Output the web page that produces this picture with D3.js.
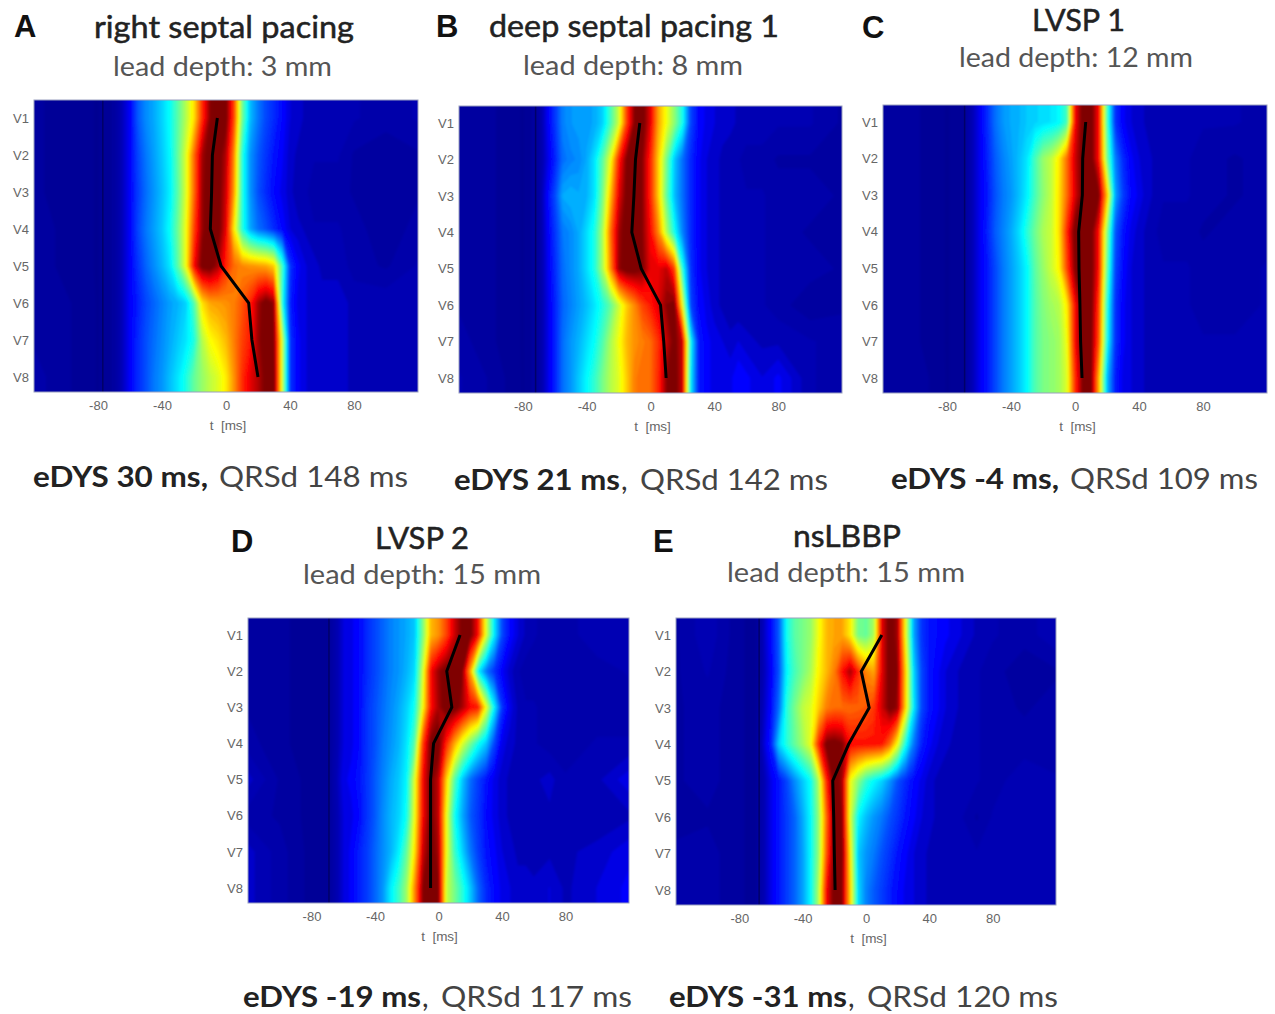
<!DOCTYPE html>
<html>
<head>
<meta charset="utf-8">
<script src="https://cdn.jsdelivr.net/npm/d3@7"></script>
<style>
body {margin: 0; background: #fff;}
svg {display: block;}
.tick text {font-family: "Liberation Sans", Arial, sans-serif; font-size: 13px; fill: #666;}
</style>
</head>
<body>
<div id="vis"></div>
<script>
const WIDTH = 1275;
const HEIGHT = 1014;

const LEADS = ["V1", "V2", "V3", "V4", "V5", "V6", "V7", "V8"];
const X_TICKS = [-80, -40, 0, 40, 80];

// time of every column in the heat maps, finer around the QRS
const TIME_MS = [-120, -100, -80, -70,
	-60, -55, -50, -45, -40, -35, -30, -25, -20, -15, -10, -5, 0, 5, 10, 15, 20, 25, 30, 35, 40, 45, 50, 55, 60,
	70, 80, 100, 120];

// one row per lead, percent of the colour range
const HEAT_A = [
	[5,4,3,5, 13,22,27,30,34,39,47,56,66,84,97,100,99,82,50,32,25,20,17,14,11,10,9,9,9, 9,8,7,8],
	[5,4,3,5, 13,20,25,29,33,38,48,60,78,95,100,100,94,75,42,28,22,18,15,13,10,9,8,8,8, 8,6,5,6],
	[5,4,3,5, 13,19,24,28,32,37,47,60,78,96,100,100,92,73,42,28,21,17,14,12,10,8,8,7,7, 7,6,5,6],
	[6,4,3,5, 13,20,25,29,33,39,49,62,82,96,100,100,90,65,42,30,24,21,17,14,11,10,9,8,8, 8,7,5,7],
	[6,4,3,5, 13,18,23,27,31,36,47,62,88,99,100,95,85,78,75,74,73,72,68,45,18,13,11,10,9, 9,7,6,8],
	[6,5,3,5, 13,16,20,23,26,29,31,34,46,66,72,73,74,76,80,85,95,100,96,42,16,12,11,10,10, 10,9,9,9],
	[6,5,3,5, 13,17,21,24,27,30,33,36,41,56,63,66,70,76,82,86,96,100,98,60,18,13,11,10,10, 10,9,8,9],
	[7,5,3,5, 13,17,21,25,28,32,36,41,48,53,57,60,65,74,84,90,94,99,100,60,18,13,11,10,10, 10,9,9,9]
];
const HEAT_B = [
	[6,5,3,6, 18,26,28,29,29,30,34,45,58,82,98,100,90,72,62,52,40,20,14,12,11,10,10,9,9, 9,8,8,6],
	[6,5,3,6, 16,24,26,27,30,36,47,62,85,98,100,97,85,68,50,33,24,17,13,11,10,9,8,8,7, 7,6,6,5],
	[6,5,3,6, 20,30,31,30,31,36,50,70,90,99,100,97,85,68,48,32,24,17,13,11,10,9,8,8,8, 8,7,7,6],
	[6,5,3,6, 18,25,27,30,35,41,55,78,95,100,100,97,88,75,56,40,26,17,13,11,10,9,8,8,8, 8,7,6,6],
	[6,5,3,6, 17,24,27,30,35,41,55,75,96,100,100,98,90,90,93,82,42,18,13,11,10,9,8,9,9, 8,7,7,6],
	[6,5,3,6, 16,23,26,29,32,36,41,48,58,68,75,82,86,91,97,99,62,20,14,12,10,9,8,8,8, 8,7,5,6],
	[7,5,3,6, 16,24,28,31,35,39,46,55,62,70,74,76,78,84,93,99,92,40,16,13,12,11,10,11,10, 9,9,8,7],
	[8,6,3,6, 16,24,28,33,38,43,50,56,60,68,76,78,78,85,97,100,92,38,16,13,12,11,12,14,13, 11,13,8,7]
];
const HEAT_C = [
	[6,5,3,4, 12,17,24,28,30,31,33,34,35,36,38,45,88,100,100,87,45,18,13,11,10,9,9,8,8, 9,8,8,7],
	[6,5,3,4, 12,16,22,26,29,32,36,45,53,57,65,78,92,100,100,87,50,26,17,13,11,10,9,8,8, 8,7,6,7],
	[6,5,3,4, 12,15,21,25,28,32,37,45,52,57,66,78,91,100,100,98,70,30,19,14,12,10,9,8,8, 8,7,6,7],
	[6,5,3,4, 12,16,22,26,30,35,42,49,55,58,66,85,100,100,100,87,52,22,15,12,10,9,8,7,7, 7,6,7,7],
	[6,5,3,4, 12,15,20,25,29,33,38,47,53,58,64,82,98,100,100,87,48,20,14,11,10,9,8,8,8, 8,7,7,8],
	[5,5,3,4, 12,15,20,25,29,33,38,46,51,54,56,65,88,100,100,82,42,18,13,11,10,9,8,8,8, 8,7,7,8],
	[6,5,3,4, 12,15,20,25,29,33,38,46,50,52,54,62,88,100,99,80,40,18,13,11,10,9,9,9,9, 9,8,8,8],
	[6,6,3,4, 12,15,20,25,29,33,38,46,50,52,54,60,84,99,99,70,32,16,12,11,10,9,9,9,9, 9,9,8,8]
];
const HEAT_D = [
	[6,5,4,4, 11,12,14,17,20,23,26,28,30,33,50,70,74,82,92,99,99,88,60,37,20,14,11,9,8, 7,7,9,8],
	[6,5,4,4, 11,12,14,17,20,23,26,28,31,35,58,88,96,100,100,98,72,38,25,18,13,10,8,7,7, 7,7,7,8],
	[6,5,4,4, 11,12,14,18,21,24,27,30,34,40,62,87,95,100,100,95,88,86,62,38,18,12,9,8,8, 7,7,7,7],
	[7,5,4,4, 11,12,14,18,21,25,28,31,36,47,82,99,100,85,72,60,50,40,33,20,12,10,9,8,8, 7,7,8,8],
	[10,6,4,4, 12,13,15,18,22,26,30,33,38,60,88,99,93,68,47,33,24,19,15,12,10,9,9,9,9, 10,8,9,12],
	[7,6,4,4, 11,12,14,18,22,27,31,34,40,62,88,99,93,62,40,30,22,18,14,12,10,9,8,8,8, 9,8,8,9],
	[10,7,4,4, 11,13,16,19,23,27,31,37,48,66,92,100,95,62,44,34,25,19,15,13,11,10,9,9,8, 9,9,10,12],
	[10,7,4,4, 11,13,16,19,23,28,37,44,54,75,97,100,98,58,50,42,33,23,17,14,12,11,10,10,10, 11,9,11,13]
];
const HEAT_E = [
	[6,9,5,4, 14,22,40,47,50,53,62,70,72,72,65,50,48,55,90,100,95,62,30,18,15,14,13,12,11, 9,8,7,9],
	[6,8,5,4, 13,21,38,45,50,55,64,70,76,87,95,85,75,72,90,100,97,68,35,20,15,13,11,10,9, 8,7,5,6],
	[6,7,5,4, 14,24,42,50,57,60,68,76,78,78,78,79,80,83,92,99,96,67,37,20,15,13,11,10,9, 8,7,6,7],
	[6,7,5,4, 16,34,42,48,54,61,85,99,100,98,88,87,87,87,86,78,62,40,25,16,13,11,10,9,9, 8,7,7,7],
	[6,7,5,4, 12,15,20,27,33,39,55,85,100,95,62,52,43,38,34,28,21,17,14,12,10,9,8,8,8, 8,7,9,8],
	[5,6,5,4, 12,15,19,23,30,38,52,78,100,97,60,38,32,28,25,21,18,15,13,11,10,9,8,8,8, 6,8,8,8],
	[7,7,5,4, 12,15,19,23,29,38,52,80,100,99,65,33,28,25,21,18,15,13,11,10,9,8,8,8,8, 8,9,8,9],
	[7,7,5,4, 12,15,19,23,29,38,55,88,100,97,68,35,26,22,19,16,14,12,11,10,9,9,9,9,9, 9,9,9,9]
];

// activation time per lead, the black lines
const LINE_A = [-5.4, -8.5, -9, -9.8, -3.1, 14.2, 16.2, 20];
const LINE_B = [-6.7, -9.4, -10.4, -11.7, -5.8, 6.3, 8.3, 9.8];
const LINE_C = [6.7, 4.8, 4.6, 2.3, 2.5, 3.1, 3.5, 4.4];
const LINE_D = [13.6, 5.2, 8.4, -3.1, -5, -5, -5, -5];
const LINE_E = [10, -3, 2, -11, -21, -20.4, -20, -19.5];

// thin dark vertical mark, one per panel
const ONSET = [-77, -72, -69, -69, -67.5];

const LETTERS = ["A", "B", "C", "D", "E"];
const TITLES = ["right septal pacing", "deep septal pacing 1", "LVSP 1", "LVSP 2", "nsLBBP"];
const DEPTHS = ["lead depth: 3 mm", "lead depth: 8 mm", "lead depth: 12 mm", "lead depth: 15 mm", "lead depth: 15 mm"];
const EDYS = ["eDYS 30 ms,", "eDYS 21 ms", "eDYS -4 ms,", "eDYS -19 ms", "eDYS -31 ms"];
const COMMAS = ["", ",", "", ",", ","];
const QRSD = ["QRSd 148 ms", "QRSd 142 ms", "QRSd 109 ms", "QRSd 117 ms", "QRSd 120 ms"];

const HEATS = [HEAT_A, HEAT_B, HEAT_C, HEAT_D, HEAT_E];
const LINES = [LINE_A, LINE_B, LINE_C, LINE_D, LINE_E];

// panel placement in the page
const PANELS = [
	{left: 34, right: 418, top: 100, bottom: 392, zero: 225.5, v1: 118, v8: 377},
	{left: 459, right: 842, top: 106, bottom: 393, zero: 650, v1: 123, v8: 378},
	{left: 883, right: 1267, top: 105, bottom: 393, zero: 1075, v1: 122, v8: 378},
	{left: 248, right: 629, top: 618, bottom: 903, zero: 437, v1: 635, v8: 888},
	{left: 676, right: 1056, top: 618, bottom: 905, zero: 866, v1: 635, v8: 890}
];
const TEXT_POS = [
	{letter: [14, 37], title: [94, 354, 38], depth: [113, 332, 76], edys: [33, 208], qrsd: [219, 408], base: 487},
	{letter: [436, 37], title: [489, 779, 37], depth: [523, 743, 75], edys: [454, 620], qrsd: [640, 828], base: 490},
	{letter: [862, 38], title: [1032, 1125, 31], depth: [959, 1193, 67], edys: [891, 1059], qrsd: [1070, 1258], base: 489},
	{letter: [231, 552], title: [375, 469, 549], depth: [303, 541, 584], edys: [243, 421], qrsd: [441, 632], base: 1007},
	{letter: [653, 552], title: [793, 901, 547], depth: [727, 965, 582], edys: [669, 847], qrsd: [867, 1058], base: 1007}
];

const JET = d3.scaleLinear()
	.domain([0, 3, 8, 12.5, 37.5, 62.5, 87.5, 97])
	.range(["#00008c", "#000096", "#0000b4", "#0000ff", "#00ffff", "#ffff00", "#ff0000", "#7f0000"])
	.clamp(true);
const LEVELS = d3.range(0, 100, 100 / 64);

const SVG = d3.select("#vis").append("svg")
	.attr("width", WIDTH)
	.attr("height", HEIGHT)
	.attr("font-family", "Lato, sans-serif");

const DEFS = SVG.append("defs");
DEFS.append("filter").attr("id", "soft")
	.append("feGaussianBlur").attr("stdDeviation", 0.8);

function drawPanel(i) {
	const P = PANELS[i];
	const HEAT = HEATS[i];
	const X_SCALE = d3.scaleLinear().domain([-120, 120]).range([P.left, P.right]);
	const Y_SCALE = d3.scaleLinear().domain([1, 8]).range([P.v1, P.v8]);
	// column number to time, the columns are not evenly spaced
	const COL_TO_TIME = d3.scaleLinear().domain(d3.range(TIME_MS.length)).range(TIME_MS);

	// first and last lead repeated so the map reaches the box edges
	const ROWS = [HEAT[0]].concat(HEAT, [HEAT[7]]);
	const CONTOURS = d3.contours()
		.size([TIME_MS.length, ROWS.length])
		.thresholds(LEVELS)(ROWS.flat());

	const PATH = d3.geoPath(d3.geoTransform({
		point: function (x, y) {
			this.stream.point(X_SCALE(COL_TO_TIME(x - 0.5)), Y_SCALE(y - 0.5));
		}
	}));

	DEFS.append("clipPath").attr("id", "clip" + i)
		.append("rect")
			.attr("x", P.left)
			.attr("y", P.top)
			.attr("width", P.right - P.left)
			.attr("height", P.bottom - P.top);

	const FRAME = SVG.append("g");

	const MAP = FRAME.append("g")
		.attr("clip-path", "url(#clip" + i + ")")
		.append("g")
			.attr("filter", "url(#soft)");

	MAP.selectAll("path")
		.data(CONTOURS)
		.enter()
		.append("path")
			.attr("d", PATH)
			.attr("fill", (d) => {return JET(d.value);});

	FRAME.append("line")
		.attr("x1", X_SCALE(ONSET[i]))
		.attr("x2", X_SCALE(ONSET[i]))
		.attr("y1", P.top)
		.attr("y2", P.bottom)
		.attr("stroke", "#00005a")
		.attr("stroke-opacity", 0.8)
		.attr("stroke-width", 1.5);

	const LINE = d3.line()
		.x((d) => {return X_SCALE(d);})
		.y((d, j) => {return Y_SCALE(j + 1);});

	FRAME.append("path")
		.attr("d", LINE(LINES[i]))
		.attr("fill", "none")
		.attr("stroke", "#000")
		.attr("stroke-width", 3);

	FRAME.append("rect")
		.attr("x", P.left)
		.attr("y", P.top)
		.attr("width", P.right - P.left)
		.attr("height", P.bottom - P.top)
		.attr("fill", "none")
		.attr("stroke", "#9aa0c0")
		.attr("stroke-width", 1);

	FRAME.append("g")
		.attr("transform", "translate(0," + P.bottom + ")")
		.call(d3.axisBottom(X_SCALE).tickValues(X_TICKS).tickFormat((d) => {return String(d);}).tickSize(0).tickPadding(9))
		.call((g) => {g.select(".domain").remove();});

	FRAME.append("g")
		.attr("transform", "translate(" + P.left + ",0)")
		.call(d3.axisLeft(Y_SCALE)
			.tickValues(d3.range(1, 9))
			.tickFormat((d) => {return LEADS[d - 1];})
			.tickSize(0)
			.tickPadding(5))
		.call((g) => {g.select(".domain").remove();});

	FRAME.append("text")
		.attr("x", P.zero + 2.5)
		.attr("y", P.bottom + 38)
		.attr("text-anchor", "middle")
		.attr("font-family", "Liberation Sans, Arial, sans-serif")
		.attr("font-size", 13.5)
		.attr("fill", "#666")
		.attr("xml:space", "preserve")
		.text("t  [ms]");
}

function fitText(x0, x1, y, str, size, weight, fill, halo) {
	SVG.append("text")
		.attr("x", x0)
		.attr("y", y)
		.attr("font-size", size)
		.attr("font-weight", weight)
		.attr("fill", fill)
		.attr("stroke", fill)
		.attr("stroke-width", halo)
		.attr("textLength", x1 - x0)
		.attr("lengthAdjust", "spacingAndGlyphs")
		.text(str);
}

function drawLabels(i) {
	const T = TEXT_POS[i];
	SVG.append("text")
		.attr("x", T.letter[0])
		.attr("y", T.letter[1])
		.attr("font-family", "Liberation Sans, Arial, sans-serif")
		.attr("font-size", 31)
		.attr("font-weight", "bold")
		.attr("fill", "#111")
		.text(LETTERS[i]);
	fitText(T.title[0], T.title[1], T.title[2], TITLES[i], 31, 400, "#222", 0.5);
	fitText(T.depth[0], T.depth[1], T.depth[2], DEPTHS[i], 27, 400, "#555", 0);
	fitText(T.edys[0], T.edys[1], T.base, EDYS[i], 29, 700, "#222", 0);
	SVG.append("text")
		.attr("x", T.edys[1] + 1)
		.attr("y", T.base)
		.attr("font-size", 29)
		.attr("fill", "#333")
		.text(COMMAS[i]);
	fitText(T.qrsd[0], T.qrsd[1], T.base, QRSD[i], 29, 400, "#444", 0);
}

PANELS.forEach((d, i) => {
	drawPanel(i);
	drawLabels(i);
});
</script>
</body>
</html>
